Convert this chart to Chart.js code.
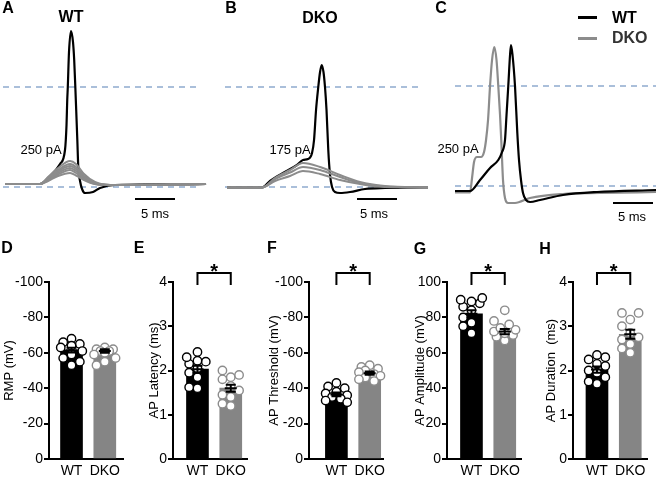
<!DOCTYPE html>
<html>
<head>
<meta charset="utf-8">
<script src="https://cdn.jsdelivr.net/npm/chart.js@4.4.1/dist/chart.umd.min.js"></script>
<style>
  body { margin: 0; background: #fff; }
  #fig { position: relative; width: 656px; height: 477px; background: #fff; overflow: hidden;
         font-family: 'Liberation Sans', Arial, sans-serif; color: #000; }
  canvas { position: absolute; }
  .t { position: absolute; transform: translate(-50%, -50%); white-space: nowrap; line-height: 1; font-size: 13px; }
  .b { font-weight: bold; font-size: 16px; }
  .l { transform: translate(0, -50%); }
  .key { position: absolute; width: 19px; height: 2.5px; }
</style>
</head>
<body>
<div id="fig">
  <canvas id="cA" width="210" height="225" style="left:0;top:0"></canvas>
  <canvas id="cB" width="220" height="225" style="left:210px;top:0"></canvas>
  <canvas id="cC" width="226" height="225" style="left:430px;top:0"></canvas>
  <canvas id="cD"></canvas>
  <canvas id="cE"></canvas>
  <canvas id="cF"></canvas>
  <canvas id="cG"></canvas>
  <canvas id="cH"></canvas>

  <div class="t b" style="left:8px;top:8px">A</div>
  <div class="t b" style="left:71px;top:17px">WT</div>
  <div class="t b" style="left:231px;top:8px">B</div>
  <div class="t b" style="left:320px;top:18px">DKO</div>
  <div class="t b" style="left:441px;top:8px">C</div>
  <div class="key" style="left:578px;top:16px;background:#000"></div>
  <div class="key" style="left:578px;top:37px;background:#8c8c8c"></div>
  <div class="t b l" style="left:612px;top:18px">WT</div>
  <div class="t b l" style="left:612px;top:38px;color:#333">DKO</div>
  <div class="t" style="left:41px;top:149px">250 pA</div>
  <div class="t" style="left:290px;top:149px">175 pA</div>
  <div class="t" style="left:458px;top:148px">250 pA</div>
  <div class="t" style="left:155px;top:213px">5 ms</div>
  <div class="t" style="left:374px;top:213px">5 ms</div>
  <div class="t" style="left:632px;top:216px">5 ms</div>
  <div class="t b" style="left:7px;top:248px">D</div>
  <div class="t b" style="left:139px;top:248px">E</div>
  <div class="t b" style="left:272px;top:248px">F</div>
  <div class="t b" style="left:420px;top:249px">G</div>
  <div class="t b" style="left:545px;top:249px">H</div>
</div>

<script>
// --- traces (time in ms, voltage in mV) ---
const aWtT = [0, 4.38, 5.63, 6.88, 7.5, 7.69, 7.78, 7.85, 8, 8.25, 8.5, 8.65, 8.79, 8.9, 9.04, 9.16, 9.38, 9.63, 10, 11, 11.88, 13.75, 25.13];
const aWtV = [-58.2, -58.2, -53.4, -46.2, -37.8, -22.8, -7.8, 0, 21, 33.6, 27, 16.2, 0, -13.8, -31.8, -48, -56.4, -61.2, -63.6, -63, -60.6, -58.8, -58.2];
const aSubT = [0, 4.38, 5.38, 6.63, 8.13, 8.88, 9.88, 11.25, 13.13, 25.13];
const aSub1 = [-58.2, -58.2, -54, -48.6, -44.4, -46.2, -52.2, -57, -58.8, -58.2];
const aSub2 = [-58.2, -58.2, -54.6, -49.8, -46.2, -48, -53.4, -57.6, -58.8, -58.2];
const aSub3 = [-58.2, -58.2, -54.9, -50.7, -47.4, -49.2, -54, -57.6, -58.8, -58.2];
const aSub4 = [-58.2, -58.2, -55.2, -51.6, -48.6, -50.4, -54.6, -57.9, -58.8, -58.2];
const aSub5 = [-58.2, -58.2, -55.8, -52.5, -49.8, -51.6, -55.2, -58.2, -58.8, -58.2];
const aSub6 = [-58.2, -58.2, -56.4, -53.4, -51.6, -53.1, -55.8, -58.2, -58.8, -58.2];

const bDkoT = [0, 4.38, 5.38, 7, 8.75, 9.5, 10.13, 10.63, 10.88, 11.13, 11.41, 11.63, 11.84, 12.06, 12.25, 12.44, 12.66, 12.88, 13.13, 13.5, 14.13, 15.38, 17.25, 19.75, 25.13];
const bDkoV = [-60.3, -60.3, -56.4, -51.6, -46.8, -43.8, -43.2, -39.6, -31.8, -13.8, 0, 9, 13.2, 9, 0, -13.8, -37.8, -52.8, -60, -63, -63.6, -63, -61.2, -60.6, -60.3];
const bSubT = [0, 4.38, 6, 7.88, 9.5, 11.63, 14.13, 16.63, 19.75, 25.13];
const bSub1 = [-60.3, -60.3, -54.6, -49.8, -45.6, -48, -52.8, -57, -59.4, -60.3];
const bSub2 = [-60.3, -60.3, -55.2, -51.3, -48, -49.8, -54, -57.6, -59.7, -60.3];
const bSub3 = [-60.3, -60.3, -56.4, -53.4, -50.4, -52.2, -55.8, -58.2, -60, -60.3];

const cWtT = [0, 1.88, 3.13, 4.38, 5.41, 5.88, 6.25, 6.44, 6.66, 6.88, 7, 7.19, 7.5, 7.79, 8, 8.25, 8.5, 8.88, 9.38, 10.63, 13.5, 17.75, 25.13];
const cWtV = [-63, -63, -56.4, -49.2, -44.4, -39.6, -32.4, -17.4, 0, 18.6, 24.6, 18.6, 0, -28.2, -44.4, -56.4, -64.2, -68.4, -69.6, -68.4, -65.4, -63.6, -62.4];
const cDkoT = [0, 1.88, 2.13, 2.38, 2.75, 3.25, 3.63, 3.88, 4.13, 4.38, 4.63, 4.91, 5.19, 5.41, 5.63, 5.81, 6, 6.25, 6.63, 7.5, 9.38, 13.5, 18.13, 25.13];
const cDkoV = [-63.9, -63.9, -55.2, -45.6, -42.6, -42.6, -39.6, -32.4, -20.4, 0, 15.6, 23.4, 15.6, 0, -17.4, -35.4, -56.4, -67.2, -70.2, -70.2, -67.2, -64.8, -64.2, -63.6];

// reference levels (mV) and 5 ms scale bars
const refLevels = [0, -60];
const scaleBarMs = 5;

// --- summary data ---
const groups = ['WT', 'DKO'];
const rmpWt = [-68, -66, -65, -64, -63, -61, -59, -57, -55, -53];
const rmpDko = [-63, -62, -62, -61, -61, -60, -59, -57, -55, -53];
const rmpMean = [-61.5, -61];
const rmpSem = [1.4, 1.0];
const latWt = [2.42, 2.3, 2.22, 2.2, 2.15, 2.05, 1.95, 1.85, 1.62, 1.6];
const latDko = [2.0, 1.9, 1.85, 1.8, 1.65, 1.55, 1.45, 1.4, 1.25, 1.2];
const latMean = [2.03, 1.6];
const latSem = [0.08, 0.08];
const thrWt = [-43, -41, -40, -38, -37, -36, -35, -34, -33, -32];
const thrDko = [-53, -52, -51, -50, -49, -48, -47, -46, -45, -44];
const thrMean = [-36.5, -48.5];
const thrSem = [1.1, 0.9];
const ampWt = [91, 90, 89, 88, 86, 84, 80, 77, 75, 71];
const ampDko = [84, 78, 76, 74, 73, 72, 71, 70, 69, 67];
const ampMean = [82, 72];
const ampSem = [2, 1.5];
const durWt = [2.35, 2.3, 2.25, 2.15, 2.1, 2.0, 1.95, 1.85, 1.75, 1.7];
const durDko = [3.3, 3.3, 3.15, 3.0, 2.85, 2.75, 2.7, 2.6, 2.5, 2.4];
const durMean = [2.02, 2.82];
const durSem = [0.07, 0.1];

Chart.defaults.font.family = "'Liberation Sans', Arial, sans-serif";
Chart.defaults.color = '#000';

const GREY = '#8c8c8c';
const DASH = '#8faace';

function line(t, v, color, w, dash) {
  return {
    data: t.map((x, i) => ({ x: x, y: v[i] })),
    borderColor: color, borderWidth: w || 2, borderDash: dash || [],
    pointRadius: 0, cubicInterpolationMode: 'monotone', fill: false, clip: false
  };
}

function traceChart(id, sets, xr, yr) {
  new Chart(document.getElementById(id), {
    type: 'line',
    data: { datasets: sets },
    options: {
      responsive: false, animation: false, devicePixelRatio: 1,
      layout: { padding: 0 },
      plugins: { legend: { display: false }, tooltip: { enabled: false } },
      scales: {
        x: { type: 'linear', display: false, min: xr[0], max: xr[1] },
        y: { display: false, min: yr[0], max: yr[1] }
      }
    }
  });
}

function refLines(t0, t1) {
  return refLevels.map(v => line([t0, t1], [v, v], DASH, 1.6, [6, 5]));
}

// A
traceChart('cA', [
  line(aSubT, aSub1, GREY), line(aSubT, aSub2, GREY), line(aSubT, aSub3, GREY),
  line(aSubT, aSub4, GREY), line(aSubT, aSub5, GREY), line(aSubT, aSub6, GREY),
  line(aWtT, aWtV, '#000', 2.2),
  ...refLines(-0.25, 24.4),
  line([16.25, 16.25 + scaleBarMs], [-67.2, -67.2], '#000', 2)
], [-0.625, 25.625], [-82.8, 52.2]);

// B
traceChart('cB', [
  line(bSubT, bSub1, GREY), line(bSubT, bSub2, GREY), line(bSubT, bSub3, GREY),
  line(bDkoT, bDkoV, '#000', 2.2),
  ...refLines(-0.25, 24.4),
  line([16.25, 16.25 + scaleBarMs], [-67.2, -67.2], '#000', 2)
], [-2.125, 25.375], [-82.8, 52.2]);

// C
traceChart('cC', [
  line(cWtT, cWtV, '#000', 2.2),
  line(cDkoT, cDkoV, GREY, 2.2),
  ...refLines(0, 25.2),
  line([19.75, 19.75 + scaleBarMs], [-70.2, -70.2], '#000', 2)
], [-3.125, 25.125], [-83.4, 51.6]);

// --- bar panels ---
const PX_X = 34, AREA_W = 76, AREA_H = 177, DOT = 8.4;

function swarm(vals, cx, yRange) {
  const pyu = AREA_H / yRange;
  const placed = [];
  const idx = vals.map((v, i) => i).sort((a, b) => vals[a] - vals[b]);
  const out = [];
  idx.forEach(i => {
    const py = vals[i] * pyu;
    let best = 0, bestD = -1;
    for (const dx of [0, -4.5, 4.5, -8.5, 8.5, -11, 11]) {
      const d = placed.length ? Math.min(...placed.map(p => Math.hypot(p.x - dx, p.y - py))) : 99;
      if (d >= DOT) { best = dx; bestD = d; break; }
      if (d > bestD) { best = dx; bestD = d; }
    }
    placed.push({ x: best, y: py });
    out.push({ x: cx + best / PX_X, y: vals[i] });
  });
  return out;
}

const errPlugin = {
  id: 'errbars',
  afterDatasetsDraw(chart, args, o) {
    const { ctx, scales: { x, y } } = chart;
    ctx.save();
    ctx.strokeStyle = '#000';
    ctx.lineWidth = 2;
    o.mean.forEach((m, i) => {
      const px = x.getPixelForValue(i);
      const lo = y.getPixelForValue(m - o.sem[i]);
      const hi = y.getPixelForValue(m + o.sem[i]);
      const mid = y.getPixelForValue(m);
      ctx.beginPath();
      ctx.moveTo(px, lo); ctx.lineTo(px, hi);
      ctx.moveTo(px - 5, lo); ctx.lineTo(px + 5, lo);
      ctx.moveTo(px - 5, hi); ctx.lineTo(px + 5, hi);
      ctx.moveTo(px - 6, mid); ctx.lineTo(px + 6, mid);
      ctx.stroke();
    });
    ctx.restore();
  }
};

const sigPlugin = {
  id: 'sig',
  afterDraw(chart, args, o) {
    if (!o.show) return;
    const { ctx, chartArea, scales: { x } } = chart;
    const x0 = x.getPixelForValue(0), x1 = x.getPixelForValue(1);
    const top = chartArea.top - 9;
    ctx.save();
    ctx.strokeStyle = '#000';
    ctx.lineWidth = 2;
    ctx.beginPath();
    ctx.moveTo(x0, top + 12); ctx.lineTo(x0, top); ctx.lineTo(x1, top); ctx.lineTo(x1, top + 12);
    ctx.stroke();
    ctx.fillStyle = '#000';
    ctx.font = "bold 20px 'Liberation Sans', Arial, sans-serif";
    ctx.textAlign = 'center';
    ctx.textBaseline = 'alphabetic';
    ctx.fillText('*', (x0 + x1) / 2, top + 5);
    ctx.restore();
  }
};

function barPanel(p) {
  const cv = document.getElementById(p.id);
  cv.width = p.yW + AREA_W + 4;
  cv.height = 247;
  cv.style.left = p.left + 'px';
  cv.style.top = '230px';
  const yRange = p.max - p.min;
  const xMin = -p.gap / PX_X;
  new Chart(cv, {
    type: 'bar',
    data: {
      datasets: [
        { type: 'scatter', data: swarm(p.wt, 0, yRange), pointRadius: 4.2, pointBackgroundColor: '#fff',
          pointBorderColor: '#000', pointBorderWidth: 1.4, order: 0, clip: false },
        { type: 'scatter', data: swarm(p.dko, 1, yRange), pointRadius: 4.2, pointBackgroundColor: '#fff',
          pointBorderColor: GREY, pointBorderWidth: 1.4, order: 0, clip: false },
        { type: 'bar', data: p.mean.map((m, i) => ({ x: i, y: m })), backgroundColor: ['#000', '#858585'],
          barThickness: 22, order: 2 }
      ]
    },
    options: {
      responsive: false, animation: false, devicePixelRatio: 1,
      layout: { padding: { top: 52, right: 4, left: 0, bottom: 0 } },
      plugins: {
        legend: { display: false }, tooltip: { enabled: false },
        errbars: { mean: p.mean, sem: p.sem },
        sig: { show: p.star }
      },
      scales: {
        x: {
          type: 'linear', min: xMin, max: xMin + AREA_W / PX_X, offset: false,
          grid: { display: false, offset: false, drawTicks: false, tickLength: 0 },
          border: { color: '#000', width: 2 },
          afterBuildTicks: s => { s.ticks = [{ value: 0 }, { value: 1 }]; },
          ticks: { callback: v => groups[v], font: { size: 14 }, padding: 4, maxRotation: 0, autoSkip: false },
          afterFit: s => { s.height = 18; s.paddingLeft = 0; s.paddingRight = 0; }
        },
        y: {
          min: p.min, max: p.max, reverse: p.reverse,
          grid: { drawOnChartArea: false, color: '#000', lineWidth: 2, tickLength: 5 },
          border: { color: '#000', width: 2 },
          ticks: { stepSize: p.step, font: { size: 14 }, padding: 1 },
          title: { display: true, text: p.title, font: { size: 13 }, padding: { top: 2, bottom: 0 } },
          afterFit: s => { s.width = p.yW; }
        }
      }
    },
    plugins: [errPlugin, sigPlugin]
  });
}

barPanel({ id: 'cD', left: 0, yW: 49, gap: 23, min: -100, max: 0, step: 20, reverse: true,
  title: 'RMP (mV)', star: false, wt: rmpWt, dko: rmpDko, mean: rmpMean, sem: rmpSem });
barPanel({ id: 'cE', left: 145, yW: 28, gap: 25, min: 0, max: 4, step: 1, reverse: false,
  title: 'AP Latency (ms)', star: true, wt: latWt, dko: latDko, mean: latMean, sem: latSem });
barPanel({ id: 'cF', left: 265, yW: 44, gap: 28, min: -100, max: 0, step: 20, reverse: true,
  title: 'AP Threshold (mV)', star: true, wt: thrWt, dko: thrDko, mean: thrMean, sem: thrSem });
barPanel({ id: 'cG', left: 411, yW: 36, gap: 25, min: 0, max: 100, step: 20, reverse: false,
  title: 'AP Amplitude (mV)', star: true, wt: ampWt, dko: ampDko, mean: ampMean, sem: ampSem });
barPanel({ id: 'cH', left: 542, yW: 31, gap: 24.5, min: 0, max: 4, step: 1, reverse: false,
  title: 'AP Duration  (ms)', star: true, wt: durWt, dko: durDko, mean: durMean, sem: durSem });
</script>
</body>
</html>
